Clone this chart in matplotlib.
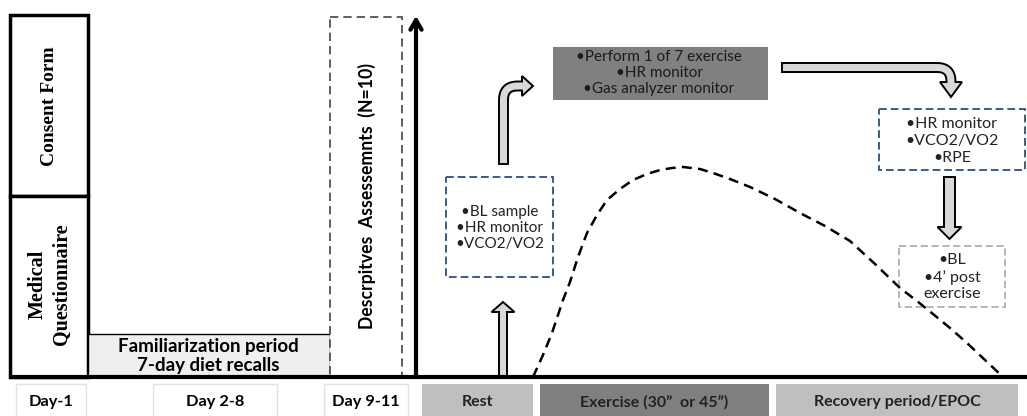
import matplotlib.pyplot as plt
import matplotlib.patches as mpatches
import numpy as np

# ---- text content ----
left_labels = ['Consent Form', 'Medical\nQuestionnaire']
famil_text = 'Familiarization period\n7-day diet recalls'
desc_text = 'Descrpitves  Assessemnts  (N=10)'
day_labels = ['Day-1', 'Day 2-8', 'Day 9-11']
phase_labels = ['Rest', 'Exercise (30\u201d  or 45\u201d)', 'Recovery period/EPOC']
phase_colors = ['#bfbfbf', '#7f7f7f', '#bfbfbf']
rest_text = '\u2022BL sample\n\u2022HR monitor\n\u2022VCO2/VO2'
exer_text = '\u2022Perform 1 of 7 exercise\n\u2022HR monitor\n\u2022Gas analyzer monitor'
recov_text = '\u2022HR monitor\n\u2022VCO2/VO2\n\u2022RPE'
bl_text = '\u2022BL\n\u20224\u2019 post\nexercise'

# ---- response curve (pixel coords) ----
curve_x = [533, 543, 552, 563, 570, 578, 587, 597, 607, 620, 633, 647, 660, 672,
           683, 700, 713, 730, 750, 775, 800, 825, 850, 875, 900, 917, 933, 950,
           967, 985, 1003]
curve_y = [377, 355, 333, 300, 282, 257, 233, 215, 200, 189, 180, 174, 170, 168,
           167, 169, 173, 179, 187, 199, 213, 226, 241, 264, 288, 301, 314, 328,
           343, 360, 377]

SANS = ['Lato', 'DejaVu Sans']
SERIF = ['Liberation Serif', 'DejaVu Serif']
BASE = 377


def block_arrow(ax, pts, w, hw, hl, fc='#d9d9d9', ec='black', lw=1.4):
    pts = np.asarray(pts, float)
    d = pts[-1] - pts[-2]
    d /= np.linalg.norm(d)
    tip = pts[-1]
    line = np.vstack([pts[:-1], tip - d * hl])
    tang = np.gradient(line, axis=0)
    tang /= np.linalg.norm(tang, axis=1)[:, None]
    nrm = np.column_stack([-tang[:, 1], tang[:, 0]])
    left = line + nrm * w / 2
    right = line - nrm * w / 2
    base = line[-1]
    n_end = nrm[-1]
    poly = np.vstack([left, base + n_end * hw, tip, base - n_end * hw, right[::-1]])
    ax.add_patch(mpatches.Polygon(poly, closed=True, fc=fc, ec=ec, lw=lw, zorder=4))


def corner_path(p0, corner, p1, r, n=12):
    p0, corner, p1 = (np.asarray(p, float) for p in (p0, corner, p1))
    a = (corner - p0) / np.linalg.norm(corner - p0)
    b = (p1 - corner) / np.linalg.norm(p1 - corner)
    s = corner - a * r
    e = corner + b * r
    t = np.linspace(0, 1, n)[:, None]
    arc = (1 - t) ** 2 * s + 2 * (1 - t) * t * corner + t ** 2 * e
    return np.vstack([p0, arc, p1])


fig = plt.figure(figsize=(10.27, 4.16), dpi=100)
ax = fig.add_axes([0, 0, 1, 1])
ax.set_xlim(0, 1027)
ax.set_ylim(416, 0)
ax.axis('off')

# left boxes
ax.add_patch(mpatches.Rectangle((10, 15), 78, 181, fc='white', ec='black', lw=2.5))
ax.add_patch(mpatches.Rectangle((10, 196), 78, 181, fc='white', ec='black', lw=2.5))
ax.text(50, 106, left_labels[0], rotation=90, ha='center', va='center',
        family=SERIF, fontweight='bold', fontsize=14)
ax.text(50, 284, left_labels[1], rotation=90, ha='center', va='center',
        family=SERIF, fontweight='bold', fontsize=14.5, linespacing=1.25)

# familiarization
ax.add_patch(mpatches.Rectangle((88, 334), 242, 43, fc='#efefef', ec='black', lw=1.0))
ax.text(208, 356, famil_text, ha='center', va='center', family=SANS,
        fontweight='bold', fontsize=13.5, linespacing=1.2)

# descriptives dashed box
ax.add_patch(mpatches.Rectangle((330, 17), 72, 360, fc='white', ec='#444444',
                                lw=1.2, ls=(0, (5, 3))))
ax.text(367, 196, desc_text, rotation=90, ha='center', va='center', family=SANS,
        fontweight='bold', fontsize=12.7)

# baseline + vertical axis
ax.plot([10, 1027], [BASE, BASE], color='black', lw=3, solid_capstyle='butt', zorder=5)
ax.annotate('', xy=(416, 13), xytext=(416, BASE + 1),
            arrowprops=dict(arrowstyle='->,head_length=0.7,head_width=0.4',
                            lw=3, color='black'), zorder=5)

# bottom labels
day_boxes = [(16, 70), (153, 124), (324, 84)]
for lab, (x0, w) in zip(day_labels, day_boxes):
    ax.add_patch(mpatches.Rectangle((x0, 384), w, 40, fc='white', ec='#e2e2e2', lw=1))
    ax.text(x0 + w / 2, 402, lab, ha='center', va='center', family=SANS,
            fontweight='bold', fontsize=11.8)
phase_boxes = [(422, 111), (540, 229), (776, 242)]
for lab, col, (x0, w) in zip(phase_labels, phase_colors, phase_boxes):
    ax.add_patch(mpatches.Rectangle((x0, 384), w, 40, fc=col, ec='none'))
    ax.text(x0 + w / 2, 402, lab, ha='center', va='center', family=SANS,
            fontweight='bold', fontsize=11.5, color='#222222')

# response curve
ax.plot(curve_x, curve_y, color='black', lw=1.8, ls=(0, (4, 2.5)), zorder=3)

# info boxes
ax.add_patch(mpatches.Rectangle((446, 177), 107, 100, fc='white', ec='#3d5a8a',
                                lw=1.4, ls=(0, (4, 2))))
ax.text(499.5, 228, rest_text, ha='center', va='center', family=SANS,
        fontsize=11, linespacing=1.2, color='#222222')
ax.add_patch(mpatches.Rectangle((553, 47), 215, 53, fc='#808080', ec='none'))
ax.text(659, 73, exer_text, ha='center', va='center', family=SANS,
        fontsize=11, linespacing=1.2, color='#1a1a1a')
ax.add_patch(mpatches.Rectangle((879, 109), 146, 61, fc='white', ec='#3d5a8a',
                                lw=1.4, ls=(0, (4, 2))))
ax.text(952, 141, recov_text, ha='center', va='center', family=SANS,
        fontsize=11.5, linespacing=1.3, color='#222222')
ax.add_patch(mpatches.Rectangle((899, 246), 106, 61, fc='white', ec='#b0b0b0',
                                lw=1.3, ls=(0, (4, 2))))
ax.text(952, 277, bl_text, ha='center', va='center', family=SANS,
        fontsize=11.5, linespacing=1.25, color='#222222')

# block arrows
block_arrow(ax, [(503, BASE), (503, 302)], 8, 11.5, 10)
block_arrow(ax, corner_path((503.5, 164), (503.5, 86), (533, 86), 14), 9, 10, 11)
block_arrow(ax, corner_path((782, 67.5), (951, 67.5), (951, 97), 14), 9, 11, 15)
block_arrow(ax, [(949.5, 177), (949.5, 239)], 11, 12, 12)

fig.savefig('out.png', dpi=100)
